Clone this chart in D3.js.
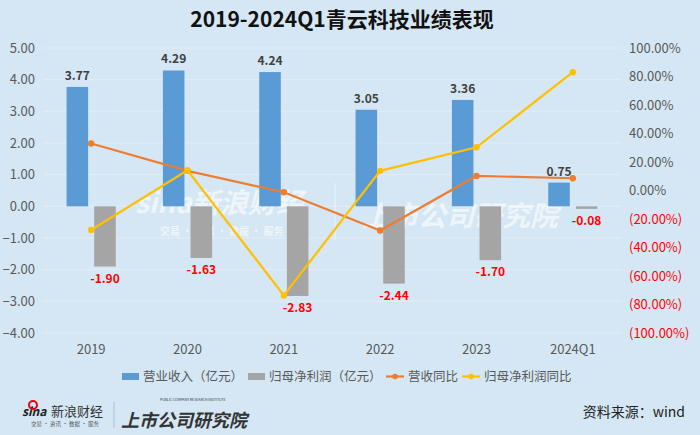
<!DOCTYPE html>
<html lang="zh">
<head>
<meta charset="UTF-8">
<title>青云科技业绩表现</title>
<script src="https://d3js.org/d3.v7.min.js"></script>
<style>
  body { margin: 0; background: #d5e7f4; }
  text { font-family: "Noto Sans CJK SC", "Noto Sans", sans-serif; }
</style>
</head>
<body>
<script>
// data
var years = ['2019', '2020', '2021', '2022', '2023', '2024Q1'];
var revenue = [3.77, 4.29, 4.24, 3.05, 3.36, 0.75];        // 营业收入（亿元）
var netProfit = [-1.90, -1.63, -2.83, -2.44, -1.70, -0.08]; // 归母净利润（亿元）
var revYoY = [33.0, 13.8, -1.2, -28.1, 10.2, 8.6];         // 营收同比 %
var npYoY = [-27.7, 14.2, -73.6, 13.8, 30.3, 83.0];        // 归母净利润同比 %
var leftTicks = [5, 4, 3, 2, 1, 0, -1, -2, -3, -4];
var rightTicks = [100, 80, 60, 40, 20, 0, -20, -40, -60, -80, -100];

var w = 700, h = 435;
var svg = d3.select('body').append('svg').attr('width', w).attr('height', h);

svg.append('rect').attr('width', w).attr('height', h).attr('fill', '#d5e7f4');

var x = d3.scaleBand().domain(years).range([43, 621]);
var xSub = d3.scaleBand().domain(['rev', 'np'])
    .range([x.bandwidth() / 2 - 24.6, x.bandwidth() / 2 + 24.6]).paddingInner(0.22);
var y = d3.scaleLinear().domain([-4, 5]).range([333, 48]);
var y2 = d3.scaleLinear().domain([-100, 100]).range([333, 48]);

// title
svg.append('text').attr('x', 342).attr('y', 27).attr('text-anchor', 'middle')
    .attr('font-size', 21).attr('font-weight', 'bold').attr('fill', '#111')
    .text('2019-2024Q1青云科技业绩表现');

// gridlines
svg.append('g').selectAll('line').data(leftTicks).enter().append('line')
    .attr('x1', 43).attr('x2', 621)
    .attr('y1', function(d){ return y(d); }).attr('y2', function(d){ return y(d); })
    .attr('stroke', '#e5ecf2').attr('stroke-width', 1);

// watermark
var wm = svg.append('g').attr('fill', '#ffffff').attr('opacity', 0.6);
wm.append('text').attr('x', 135).attr('y', 213).attr('font-size', 28)
    .attr('font-weight', 'bold').attr('font-style', 'italic').text('sina新浪财经');
wm.append('text').attr('x', 160).attr('y', 235).attr('font-size', 10)
    .attr('font-weight', 'bold').text('交易 · 资讯 · 数据 · 服务');
wm.append('line').attr('x1', 335).attr('x2', 335).attr('y1', 183).attr('y2', 240)
    .attr('stroke', '#ffffff').attr('stroke-width', 1);
wm.append('text').attr('x', 362).attr('y', 226).attr('font-size', 28)
    .attr('font-weight', 'bold').attr('font-style', 'italic').text('上市公司研究院');

// left axis
var yAxis = d3.axisLeft(y).tickValues(leftTicks).tickSize(0).tickPadding(0)
    .tickFormat(d3.format('.2f'));
var gl = svg.append('g').attr('transform', 'translate(35,0)').call(yAxis);
gl.select('.domain').remove();
gl.selectAll('text').attr('font-size', 13).attr('fill', '#595959')
    .attr('font-family', '"Noto Sans", sans-serif');

// right axis
var yAxis2 = d3.axisRight(y2).tickValues(rightTicks).tickSize(0).tickPadding(0)
    .tickFormat(function(d){
        var s = d3.format('.2f')(Math.abs(d)) + '%';
        return d < 0 ? '(' + s + ')' : s;
    });
var gr = svg.append('g').attr('transform', 'translate(629,0)').call(yAxis2);
gr.select('.domain').remove();
gr.selectAll('text').attr('font-size', 13)
    .attr('font-family', '"Noto Sans", sans-serif')
    .attr('fill', function(d){ return d < 0 ? '#ff0000' : '#595959'; });

// x axis labels
var xAxis = d3.axisBottom(x).tickSize(0).tickPadding(0);
var gx = svg.append('g').attr('transform', 'translate(0,345)').call(xAxis);
gx.select('.domain').remove();
gx.selectAll('text').attr('font-size', 13).attr('fill', '#595959')
    .attr('font-family', '"Noto Sans", sans-serif');

// bars
var bars = svg.append('g');
bars.selectAll('rect.rev').data(revenue).enter().append('rect').attr('class', 'rev')
    .attr('x', function(d, i){ return x(years[i]) + xSub('rev'); })
    .attr('width', xSub.bandwidth())
    .attr('y', function(d){ return y(d); })
    .attr('height', function(d){ return y(0) - y(d); })
    .attr('fill', '#5b9bd5');
bars.selectAll('rect.np').data(netProfit).enter().append('rect').attr('class', 'np')
    .attr('x', function(d, i){ return x(years[i]) + xSub('np'); })
    .attr('width', xSub.bandwidth())
    .attr('y', y(0))
    .attr('height', function(d){ return y(d) - y(0); })
    .attr('fill', '#a5a5a5');

// bar labels
svg.append('g').selectAll('text').data(revenue).enter().append('text')
    .attr('x', function(d, i){ return x(years[i]) + xSub('rev') + xSub.bandwidth() / 2; })
    .attr('y', function(d){ return y(d) - 7; })
    .attr('text-anchor', 'middle').attr('font-size', 12).attr('font-weight', 'bold')
    .attr('font-family', '"Noto Sans", sans-serif').attr('fill', '#404040')
    .text(function(d){ return d.toFixed(2); });
svg.append('g').selectAll('text').data(netProfit).enter().append('text')
    .attr('x', function(d, i){ return x(years[i]) + xSub('np') + xSub.bandwidth() / 2; })
    .attr('y', function(d){ return y(d) + 16; })
    .attr('text-anchor', 'middle').attr('font-size', 12).attr('font-weight', 'bold')
    .attr('font-family', '"Noto Sans", sans-serif').attr('fill', '#ff0000')
    .text(function(d){ return d.toFixed(2); });

// lines
function drawLine(vals, color){
    var line = d3.line()
        .x(function(d, i){ return x(years[i]) + x.bandwidth() / 2; })
        .y(function(d){ return y2(d); });
    svg.append('path').datum(vals).attr('d', line)
        .attr('fill', 'none').attr('stroke', color).attr('stroke-width', 2.2);
    svg.append('g').selectAll('circle').data(vals).enter().append('circle')
        .attr('cx', function(d, i){ return x(years[i]) + x.bandwidth() / 2; })
        .attr('cy', function(d){ return y2(d); })
        .attr('r', 3.2).attr('fill', color);
}
drawLine(revYoY, '#ed7d31');
drawLine(npYoY, '#ffc000');

// legend
var lg = svg.append('g').attr('font-size', 12.5).attr('fill', '#595959');
lg.append('rect').attr('x', 122).attr('y', 373).attr('width', 17).attr('height', 7).attr('fill', '#5b9bd5');
lg.append('text').attr('x', 143).attr('y', 381).attr('fill', '#595959').text('营业收入（亿元）');
lg.append('rect').attr('x', 248).attr('y', 373).attr('width', 17).attr('height', 7).attr('fill', '#a5a5a5');
lg.append('text').attr('x', 269).attr('y', 381).attr('fill', '#595959').text('归母净利润（亿元）');
[['#ed7d31', 386, '营收同比'], ['#ffc000', 462, '归母净利润同比']].forEach(function(it){
    lg.append('line').attr('x1', it[1]).attr('x2', it[1] + 18).attr('y1', 376.5).attr('y2', 376.5)
        .attr('stroke', it[0]).attr('stroke-width', 2.2);
    lg.append('circle').attr('cx', it[1] + 9).attr('cy', 376.5).attr('r', 2.8).attr('fill', it[0]);
    lg.append('text').attr('x', it[1] + 22).attr('y', 381).attr('fill', '#595959').text(it[2]);
});

// footer
var ft = svg.append('g');
ft.append('text').attr('x', 22).attr('y', 416).attr('font-size', 12).attr('font-weight', 'bold')
    .attr('font-style', 'italic').attr('fill', '#222').text('sina');
ft.append('circle').attr('cx', 33).attr('cy', 405).attr('r', 4).attr('fill', 'none')
    .attr('stroke', '#e60012').attr('stroke-width', 2);
ft.append('text').attr('x', 51).attr('y', 416).attr('font-size', 13).attr('fill', '#333').text('新浪财经');
ft.append('text').attr('x', 31).attr('y', 426).attr('font-size', 5.5).attr('fill', '#555')
    .text('交易 · 资讯 · 数据 · 服务');
ft.append('line').attr('x1', 114).attr('x2', 114).attr('y1', 402).attr('y2', 428)
    .attr('stroke', '#b0bcc6').attr('stroke-width', 1);
ft.append('text').attr('x', 160).attr('y', 401).attr('font-size', 3.5).attr('fill', '#333')
    .text('PUBLIC COMPANY RESEARCH INSTITUTE');
ft.append('text').attr('x', 121).attr('y', 427).attr('font-size', 18).attr('font-weight', 'bold')
    .attr('font-style', 'italic').attr('fill', '#333').text('上市公司研究院');
ft.append('text').attr('x', 685).attr('y', 417).attr('text-anchor', 'end').attr('font-size', 14)
    .attr('fill', '#222').text('资料来源：wind');
</script>
</body>
</html>
